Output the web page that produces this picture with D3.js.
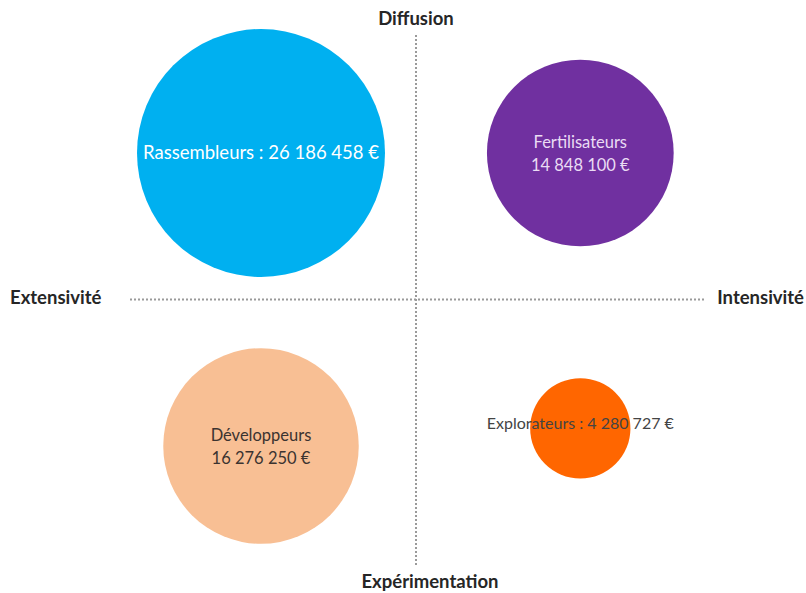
<!DOCTYPE html>
<html>
<head>
<meta charset="utf-8">
<script src="https://cdn.jsdelivr.net/npm/d3@7"></script>
<style>
  html, body { margin: 0; padding: 0; background: #fff; }
  svg { display: block; }
</style>
</head>
<body>
<svg id="chart" width="806" height="593"></svg>
<script>
// Typologie des acteurs : montant par groupe, placé dans son quadrant
const names   = ["Rassembleurs", "Fertilisateurs", "Développeurs", "Explorateurs"];
const amounts = [26186458, 14848100, 16276250, 4280727];
// position dans le plan : extensivité (-) / intensivité (+), expérimentation (-) / diffusion (+)
const xPos    = [-1, 1.06, -1, 1.06];
const yPos    = [1, 1, -1, -0.88];
const colors  = ["#00B0F0", "#7030A0", "#F8BF94", "#FF6600"];
const labelColors = ["#ffffff", "#eadcf4", "#3b3330", "#444444"];
const labelSizes  = [18.5, 16.5, 16.5, 16];
// libellés : une ou deux lignes
const labelLines = [
  ["Rassembleurs : 26 186 458 €"],
  ["Fertilisateurs", "14 848 100 €"],
  ["Développeurs", "16 276 250 €"],
  ["Explorateurs : 4 280 727 €"]
];
const axisTop = "Diffusion", axisBottom = "Expérimentation";
const axisLeft = "Extensivité", axisRight = "Intensivité";

const svg = d3.select("#chart");
const font = "Lato, 'Open Sans', sans-serif";

const x = d3.scaleLinear().domain([-1, 1]).range([261, 571]);
const y = d3.scaleLinear().domain([-1, 1]).range([446, 153]);
const r = d3.scaleSqrt().domain([0, d3.max(amounts)]).range([0, 124]);

// axes en pointillés
const axisStyle = sel => sel.attr("stroke", "#9a9a9a").attr("stroke-width", 2).attr("stroke-dasharray", "2,2");
svg.append("line").attr("x1", x(0)).attr("x2", x(0)).attr("y1", 35).attr("y2", 566).call(axisStyle);
svg.append("line").attr("x1", 130).attr("x2", 705).attr("y1", y(0)).attr("y2", y(0)).call(axisStyle);

const data = names.map((n, i) => ({
  name: n, value: amounts[i], cx: xPos[i], cy: yPos[i],
  color: colors[i], tc: labelColors[i], fs: labelSizes[i], lines: labelLines[i]
}));

svg.selectAll("circle.bubble").data(data).join("circle")
  .attr("class", "bubble")
  .attr("cx", d => x(d.cx))
  .attr("cy", d => y(d.cy))
  .attr("r", d => r(d.value))
  .attr("fill", d => d.color);

const labels = svg.selectAll("text.lbl").data(data).join("text")
  .attr("class", "lbl")
  .attr("text-anchor", "middle")
  .attr("font-family", font)
  .attr("font-size", d => d.fs)
  .attr("fill", d => d.tc);

labels.each(function(d) {
  const t = d3.select(this);
  const n = d.lines.length;
  const off = d.name === "Explorateurs" ? -5 : 0;
  d.lines.forEach((line, k) => {
    t.append("tspan")
      .attr("x", x(d.cx))
      .attr("y", y(d.cy) + (k - (n - 1) / 2) * 23 + 6 + off)
      .text(line);
  });
});

// libellés des axes
const axisLabel = (txt, px, py, anchor) => svg.append("text")
  .attr("x", px).attr("y", py)
  .attr("text-anchor", anchor)
  .attr("dominant-baseline", "middle")
  .attr("font-family", font)
  .attr("font-weight", "bold")
  .attr("font-size", 18.5)
  .attr("fill", "#262626")
  .text(txt);

axisLabel(axisTop, x(0), 20, "middle");
axisLabel(axisBottom, 430, 583, "middle");
axisLabel(axisLeft, 10, y(0), "start");
axisLabel(axisRight, 804, y(0), "end");
</script>
</body>
</html>
